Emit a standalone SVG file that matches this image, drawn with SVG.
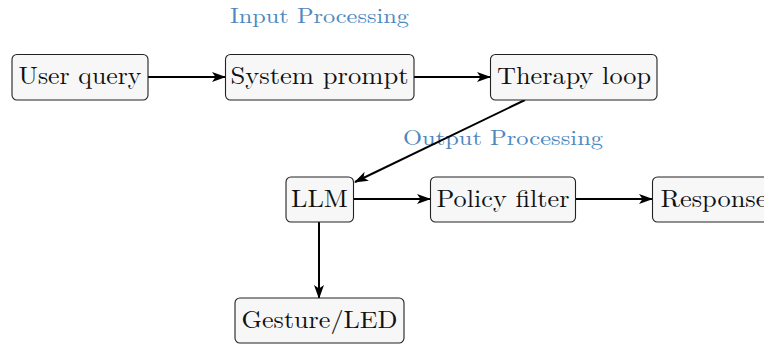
<svg xmlns="http://www.w3.org/2000/svg" width="764" height="344" viewBox="0 0 764 344">
<style>
.n rect{fill:#f7f7f7;stroke:#222;stroke-width:1.1}
.n text{font-family:"Latin Modern Roman","DejaVu Serif","Liberation Serif",serif;font-size:24px;fill:#111;text-anchor:middle}
.lbl{font-family:"Latin Modern Roman","DejaVu Serif","Liberation Serif",serif;font-size:21px;fill:#4f88bf;text-anchor:middle}
.e{stroke:#000;stroke-width:2;fill:none;marker-end:url(#ah)}
</style>
<defs>
<marker id="ah" viewBox="0 0 14 11" refX="13" refY="5.5" markerWidth="14" markerHeight="11" markerUnits="userSpaceOnUse" orient="auto">
<path d="M0,0.5 L14,5.5 L0,10.5 L3.5,5.5 Z" fill="#000"/>
</marker>
</defs>
<text class="lbl" x="319.5" y="23" textLength="179" lengthAdjust="spacingAndGlyphs">Input Processing</text>
<text class="lbl" x="503" y="145" textLength="200" lengthAdjust="spacingAndGlyphs">Output Processing</text>
<g id="connectors">
<line class="e" x1="148" y1="77" x2="225" y2="77"/>
<line class="e" x1="414" y1="77" x2="490" y2="77"/>
<line class="e" x1="525" y1="100" x2="355" y2="182"/>
<line class="e" x1="353" y1="199" x2="430" y2="199"/>
<line class="e" x1="575" y1="199" x2="652" y2="199"/>
<line class="e" x1="319" y1="222" x2="319" y2="298"/>
</g>
<g id="user_query" class="n"><rect x="12" y="54.5" width="136" height="45.5" rx="5"/><text x="80" y="84" textLength="123" lengthAdjust="spacingAndGlyphs">User query</text></g>
<g id="system_prompt" class="n"><rect x="225.5" y="54.5" width="188.5" height="45.5" rx="5"/><text x="319.5" y="84" textLength="178" lengthAdjust="spacingAndGlyphs">System prompt</text></g>
<g id="therapy_loop" class="n"><rect x="490.5" y="54.5" width="166.5" height="45.5" rx="5"/><text x="574" y="84" textLength="154" lengthAdjust="spacingAndGlyphs">Therapy loop</text></g>
<g id="llm" class="n"><rect x="286" y="177" width="67.5" height="45" rx="5"/><text x="319.5" y="207" textLength="57" lengthAdjust="spacingAndGlyphs">LLM</text></g>
<g id="policy_filter" class="n"><rect x="430.5" y="177" width="145" height="45" rx="5"/><text x="503" y="207" textLength="133" lengthAdjust="spacingAndGlyphs">Policy filter</text></g>
<g id="response" class="n"><rect x="652.5" y="177" width="124" height="45" rx="5"/><text x="714" y="207" textLength="107" lengthAdjust="spacingAndGlyphs">Response</text></g>
<g id="gesture_led" class="n"><rect x="235" y="298" width="169" height="45" rx="5"/><text x="319.5" y="328" textLength="156" lengthAdjust="spacingAndGlyphs">Gesture/LED</text></g>
</svg>
